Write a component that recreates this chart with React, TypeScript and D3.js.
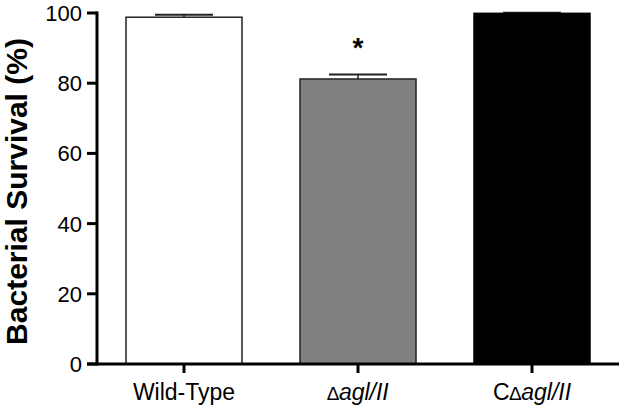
import React from "react";
import * as d3 from "d3";

const categories = ["WT", "dAgl", "CdAgl"];
const means = [98.8, 81.2, 99.9];
const errors = [0.7, 1.3, 0.2];
const fills = ["#ffffff", "#808080", "#000000"];
const yTicks = [0, 20, 40, 60, 80, 100];

const W = 630;
const H = 408;

export default function App() {
  const x = d3
    .scaleBand<string>()
    .domain(categories)
    .range([97, 619])
    .paddingInner(1 / 3)
    .paddingOuter(1 / 6);
  const y = d3.scaleLinear().domain([0, 100]).range([364, 13]);
  const bw = x.bandwidth();
  const font = "Arial, 'Liberation Sans', Helvetica, sans-serif";

  const label = (c: string) => {
    if (c === "WT") return <tspan>Wild-Type</tspan>;
    return (
      <>
        {c === "CdAgl" ? <tspan>C</tspan> : null}
        <tspan fontSize={19}>{"\u2206"}</tspan>
        <tspan fontStyle="italic">agl/II</tspan>
      </>
    );
  };

  return (
    <svg
      width={W}
      height={H}
      style={{ position: "absolute", left: 0, top: 0, background: "#fff" }}
      fontFamily={font}
    >
      {categories.map((c, i) => {
        const x0 = x(c)!;
        const top = y(means[i]);
        const cx = x0 + bw / 2;
        const eTop = y(means[i] + errors[i]);
        return (
          <g key={c}>
            <line x1={cx} x2={cx} y1={top} y2={eTop} stroke="#222" strokeWidth={1.5} />
            <line x1={cx - 29} x2={cx + 29} y1={eTop} y2={eTop} stroke="#222" strokeWidth={2} />
            <rect
              x={x0}
              y={top}
              width={bw}
              height={y(0) - top}
              fill={fills[i]}
              stroke={i === 2 ? "#000" : "#222"}
              strokeWidth={1.5}
            />
          </g>
        );
      })}
      <text
        x={x("dAgl")! + bw / 2}
        y={y(means[1] + errors[1]) - 17}
        textAnchor="middle"
        fontSize={28}
        fontWeight="bold"
        fill="#000"
      >
        *
      </text>
      <line x1={97} x2={97} y1={y(100) - 1.5} y2={y(0) + 1.5} stroke="#000" strokeWidth={3} />
      {yTicks.map((t) => (
        <g key={t}>
          <line x1={87} x2={97} y1={y(t)} y2={y(t)} stroke="#000" strokeWidth={3} />
          <text x={82} y={y(t)} dy="0.36em" textAnchor="end" fontSize={22} fill="#000">
            {t}
          </text>
        </g>
      ))}
      <line x1={87} x2={619} y1={y(0)} y2={y(0)} stroke="#000" strokeWidth={3} />
      {categories.map((c) => {
        const cx = x(c)! + bw / 2;
        return (
          <g key={c}>
            <line x1={cx} x2={cx} y1={y(0)} y2={y(0) + 9} stroke="#000" strokeWidth={3} />
            <text x={cx} y={400} textAnchor="middle" fontSize={23} fill="#000">
              {label(c)}
            </text>
          </g>
        );
      })}
      <text
        transform={`translate(27, ${(y(0) + y(100)) / 2 + 3}) rotate(-90)`}
        textAnchor="middle"
        fontSize={30}
        fontWeight="bold"
        fill="#000"
      >
        Bacterial Survival (%)
      </text>
    </svg>
  );
}
